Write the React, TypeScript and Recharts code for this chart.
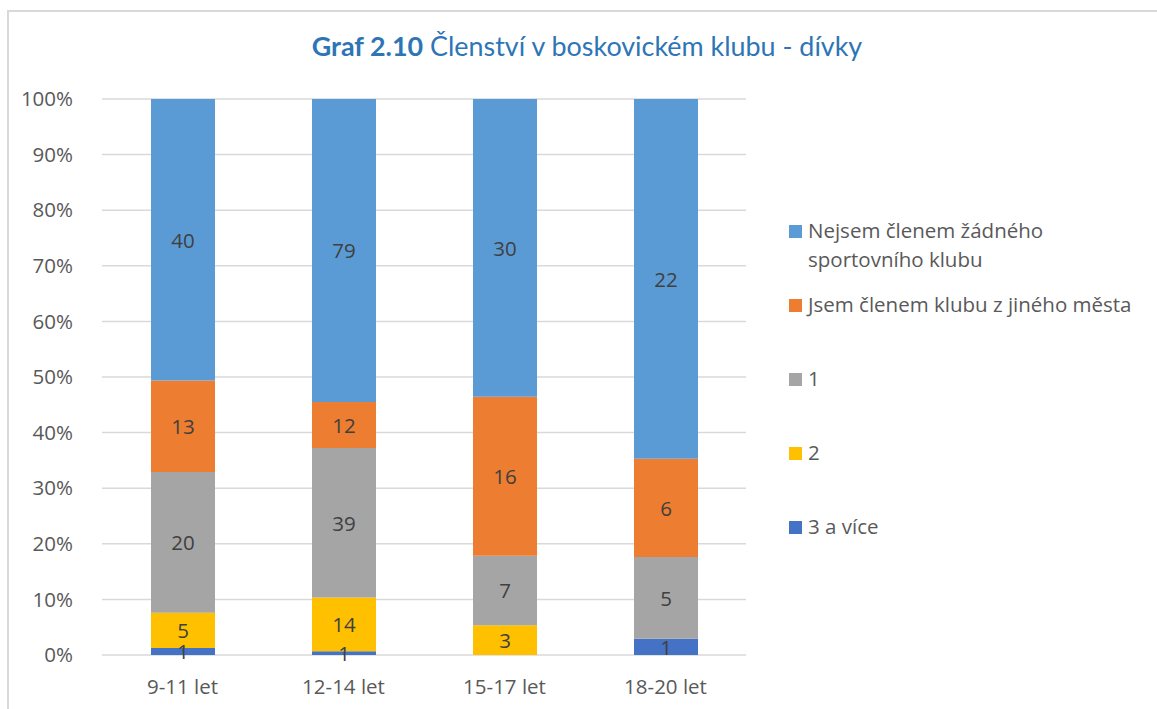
import React from "react";
import { BarChart, Bar, XAxis, YAxis, CartesianGrid, LabelList } from "recharts";

const categories = ["9-11 let", "12-14 let", "15-17 let", "18-20 let"];
const threePlus = [1, 1, 0, 1];
const two = [5, 14, 3, 0];
const one = [20, 39, 7, 5];
const otherCity = [13, 12, 16, 6];
const noClub = [40, 79, 30, 22];
const yTicks = [0, 0.1, 0.2, 0.3, 0.4, 0.5, 0.6, 0.7, 0.8, 0.9, 1];

const series = [
  { key: "threePlus", name: "3 a více", color: "#4472C4", values: threePlus },
  { key: "two", name: "2", color: "#FFC000", values: two },
  { key: "one", name: "1", color: "#A5A5A5", values: one },
  { key: "otherCity", name: "Jsem členem klubu z jiného města", color: "#ED7D31", values: otherCity },
  { key: "noClub", name: "Nejsem členem žádného sportovního klubu", color: "#5B9BD5", values: noClub },
];

const data = categories.map((c, i) => {
  const row: any = { cat: c };
  series.forEach((s) => (row[s.key] = s.values[i]));
  return row;
});

const TITLE_FONT = "Lato, sans-serif";
const FONT = "'Open Sans', sans-serif";
const FS = 20.5;

const renderLabel = (props: any) => {
  const { x, y, width, height, value } = props;
  const v = Array.isArray(value) ? null : value;
  if (!v) return null;
  return (
    <text
      x={Number(x) + Number(width) / 2}
      y={Number(y) + Number(height) / 2}
      textAnchor="middle"
      dominantBaseline="central"
      fill="#404040"
      fontSize={FS}
      fontFamily={FONT}
    >
      {v}
    </text>
  );
};

const legendItems = [
  { name: ["Nejsem členem žádného", "sportovního klubu"], color: "#5B9BD5", top: 231 },
  { name: ["Jsem členem klubu z jiného města"], color: "#ED7D31", top: 305 },
  { name: ["1"], color: "#A5A5A5", top: 379 },
  { name: ["2"], color: "#FFC000", top: 453 },
  { name: ["3 a více"], color: "#4472C4", top: 527 },
];

const LegendBox = () => (
  <div style={{ position: "absolute", left: 789, top: 0, width: 380, height: 709 }}>
    {legendItems.map((it, i) => (
      <div key={i} style={{ position: "absolute", left: 0, top: it.top - 15 }}>
        <div
          style={{
            position: "absolute",
            left: 0,
            top: 9,
            width: 13,
            height: 13,
            background: it.color,
          }}
        />
        <div
          style={{
            position: "absolute",
            left: 19,
            top: 0,
            whiteSpace: "nowrap",
            fontFamily: FONT,
            fontSize: FS,
            lineHeight: "29px",
            color: "#595959",
          }}
        >
          {it.name.map((l, j) => (
            <div key={j}>{l}</div>
          ))}
        </div>
      </div>
    ))}
  </div>
);

export default function App() {
  return (
    <div
      style={{
        position: "fixed",
        left: 0,
        top: 0,
        width: 1157,
        height: 709,
        overflow: "hidden",
        background: "#fff",
      }}
    >
      <div
        style={{
          position: "absolute",
          left: 7,
          top: 10,
          width: 1200,
          height: 800,
          border: "2px solid #d9d9d9",
          boxSizing: "border-box",
        }}
      />
      <div
        style={{
          position: "absolute",
          left: 0,
          top: 29,
          width: 1174,
          textAlign: "center",
          fontFamily: TITLE_FONT,
          fontSize: 26.9,
          color: "#2E75B6",
        }}
      >
        <span style={{ fontWeight: 700 }}>Graf 2.10</span> Členství v boskovickém klubu - dívky
      </div>
      <div style={{ position: "absolute", left: 0, top: 0 }}>
        <BarChart
          width={1157}
          height={709}
          data={data}
          stackOffset="expand"
          margin={{ top: 99, right: 411, bottom: 14, left: 12 }}
          barSize={64}
        >
          <CartesianGrid vertical={false} stroke="#d9d9d9" strokeWidth={1.5} />
          <XAxis
            dataKey="cat"
            axisLine={false}
            tickLine={false}
            height={40}
            tick={{ fill: "#595959", fontSize: FS, fontFamily: FONT }}
            tickMargin={18}
          />
          <YAxis
            width={90}
            domain={[0, 1]}
            ticks={yTicks}
            axisLine={false}
            tickLine={false}
            tickFormatter={(v: number) => `${Math.round(v * 100)}%`}
            tick={{ fill: "#595959", fontSize: FS, fontFamily: FONT }}
            tickMargin={23}
          />
          {series.map((s) => (
            <Bar key={s.key} dataKey={s.key} name={s.name} stackId="a" fill={s.color} isAnimationActive={false}>
              <LabelList dataKey={s.key} content={renderLabel} />
            </Bar>
          ))}
        </BarChart>
      </div>
      <LegendBox />
    </div>
  );
}
